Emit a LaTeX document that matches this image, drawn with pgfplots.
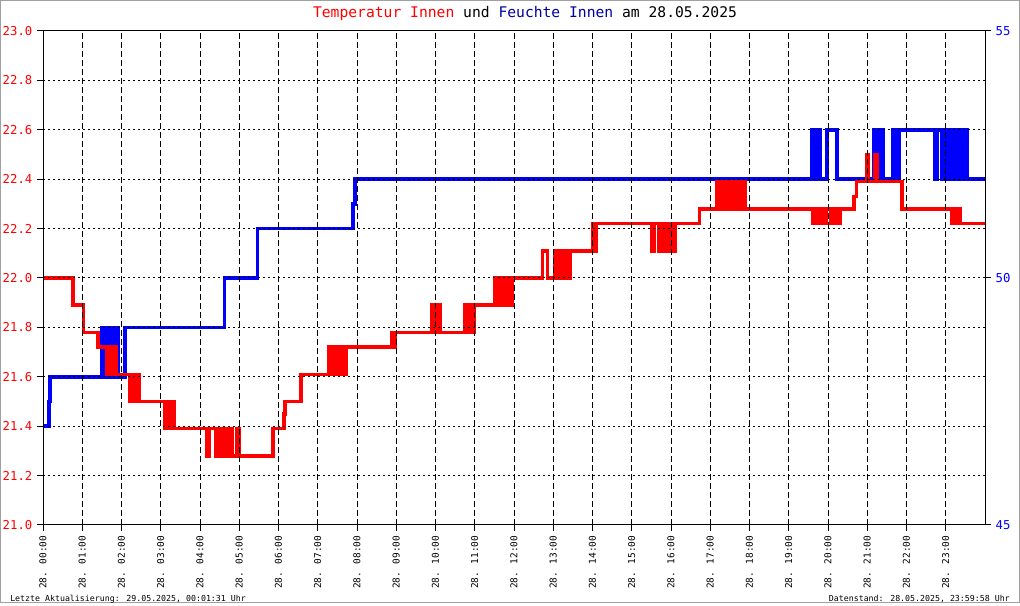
\documentclass[border=0pt]{standalone}
\usepackage{pgfplots}
\pgfplotsset{compat=1.18}
\usepackage{fontspec}
\setmainfont{DejaVu Sans Mono}
\definecolor{titleblue}{RGB}{0,0,160}
\definecolor{framegray}{RGB}{160,160,160}

\begin{document}
\begin{tikzpicture}
\useasboundingbox (0,0) rectangle (765pt,454.5pt);
\draw[framegray, line width=0.75pt] (0.375pt,2.25pt) rectangle (764.25pt,454.125pt);

\pgfplotsset{
  chart/.style={
    at={(32.25pt,60.75pt)}, anchor=south west,
    scale only axis, width=706.5pt, height=370.5pt,
    xmin=0, xmax=24,
    tick align=outside, major tick length=4.5pt,
    every tick/.style={black, line width=0.75pt},
    axis line style={black, line width=0.75pt},
    /pgf/number format/assume math mode=true,
  },
}

% Feuchte (rechte Achse)
\begin{axis}[chart,
  ymin=45, ymax=55, ytick={45,50,55},
  axis x line=none, axis y line*=right,
  yticklabel style={text=blue, font=\fontsize{9.2}{10}\selectfont},
]
\addplot[const plot, blue, line width=2.6pt] coordinates {
 (0,47)(0.15,47.5)(0.18,48)
 (1.50,49)(1.54,48)(1.58,49)(1.62,48)(1.66,49)(1.70,48)(1.74,49)(1.78,48)(1.83,49)(1.87,48)(1.90,49)(1.93,48)
 (2.09,49)
 (4.63,50)
 (5.46,51)
 (7.90,51.5)(7.95,52)
 (19.59,53)(19.63,52)(19.67,53)(19.71,52)(19.75,53)(19.80,52)
 (19.97,53)(20.23,52)
 (21.16,53)(21.20,52)(21.24,53)(21.28,52)(21.32,53)(21.36,52)(21.39,53)(21.42,52)
 (21.66,53)(21.70,52)(21.74,53)(21.78,52)(21.82,53)
 (22.73,52)(22.78,53)(22.90,52)(22.94,53)(22.98,52)(23.02,53)(23.06,52)(23.10,53)(23.14,52)(23.18,53)(23.22,52)(23.26,53)(23.30,52)(23.34,53)(23.38,52)(23.42,53)(23.46,52)(23.50,53)(23.54,52)
 (24,52)
};
\end{axis}

% Temperatur (linke Achse)
\begin{axis}[chart,
  ymin=21, ymax=23,
  ytick={21,21.2,21.4,21.6,21.8,22,22.2,22.4,22.6,22.8,23},
  yticklabel style={text=red, font=\fontsize{9.2}{10}\selectfont,
    /pgf/number format/fixed, /pgf/number format/fixed zerofill,
    /pgf/number format/precision=1},
  xtick={0,1,...,23},
  xticklabels={28. 00:00,28. 01:00,28. 02:00,28. 03:00,28. 04:00,28. 05:00,
    28. 06:00,28. 07:00,28. 08:00,28. 09:00,28. 10:00,28. 11:00,28. 12:00,
    28. 13:00,28. 14:00,28. 15:00,28. 16:00,28. 17:00,28. 18:00,28. 19:00,
    28. 20:00,28. 21:00,28. 22:00,28. 23:00},
  xticklabel style={rotate=90, anchor=east, font=\fontsize{7.1}{8}\selectfont},
  tick pos=left,
  grid=major,
  x grid style={black, line width=0.75pt, dash pattern=on 4.5pt off 2.25pt},
  y grid style={black, line width=0.75pt, dash pattern=on 1.5pt off 2.25pt},
  axis on top,
]
\addplot[const plot, red, line width=2.6pt] coordinates {
 (0,22.00)
 (0.76,21.89)
 (1.03,21.78)
 (1.40,21.72)
 (1.62,21.61)(1.66,21.72)(1.70,21.61)(1.74,21.72)(1.78,21.61)(1.82,21.72)(1.86,21.61)
 (2.22,21.5)(2.26,21.61)(2.30,21.5)(2.34,21.61)(2.38,21.5)(2.42,21.61)(2.46,21.5)
 (3.11,21.39)(3.15,21.5)(3.19,21.39)(3.23,21.5)(3.27,21.39)(3.31,21.5)(3.35,21.39)
 (4.18,21.28)(4.23,21.39)
 (4.41,21.28)(4.45,21.39)(4.49,21.28)(4.53,21.39)(4.57,21.28)(4.61,21.39)(4.65,21.28)(4.69,21.39)(4.73,21.28)(4.77,21.39)(4.81,21.28)
 (4.94,21.39)(4.99,21.28)
 (5.86,21.39)
 (6.14,21.45)(6.17,21.5)
 (6.57,21.61)
 (7.29,21.72)(7.33,21.61)(7.37,21.72)(7.41,21.61)(7.45,21.72)(7.49,21.61)(7.57,21.72)(7.61,21.61)(7.65,21.72)(7.69,21.61)(7.72,21.72)
 (8.89,21.78)(8.93,21.72)(8.97,21.78)
 (9.91,21.89)(9.97,21.78)(10.06,21.89)(10.13,21.78)
 (10.75,21.89)(10.79,21.78)(10.83,21.89)(10.87,21.78)(10.91,21.89)(10.95,21.78)(10.99,21.89)
 (11.52,22.0)(11.56,21.89)(11.59,22.0)(11.61,21.89)(11.64,22.0)(11.68,21.89)(11.72,22.0)(11.76,21.89)(11.80,22.0)(11.84,21.89)(11.87,22.0)(11.91,21.89)(11.95,22.0)
 (12.73,22.11)(12.85,22.0)
 (13.03,22.11)(13.07,22.0)(13.11,22.11)(13.15,22.0)(13.19,22.11)(13.23,22.0)(13.27,22.11)(13.31,22.0)(13.35,22.11)(13.39,22.0)(13.43,22.11)
 (14.01,22.22)(14.05,22.11)(14.09,22.22)
 (15.52,22.11)(15.58,22.22)(15.69,22.11)(15.73,22.22)(15.77,22.11)(15.81,22.22)(15.85,22.11)(15.88,22.22)(15.92,22.11)(15.96,22.22)(16.00,22.11)(16.04,22.22)(16.08,22.11)(16.11,22.22)
 (16.72,22.28)
 (17.17,22.39)(17.21,22.28)(17.25,22.39)(17.29,22.28)(17.33,22.39)(17.37,22.28)(17.41,22.39)(17.45,22.28)(17.49,22.39)(17.53,22.28)(17.59,22.39)(17.63,22.28)(17.67,22.39)(17.71,22.28)(17.75,22.39)(17.79,22.28)(17.85,22.39)(17.89,22.28)
 (19.62,22.22)(19.66,22.28)(19.70,22.22)(19.73,22.28)(19.76,22.22)(19.80,22.28)(19.84,22.22)(19.88,22.28)(19.92,22.22)(19.96,22.28)(20.06,22.22)(20.10,22.28)(20.18,22.22)(20.22,22.28)(20.26,22.22)(20.30,22.28)
 (20.66,22.33)(20.72,22.39)
 (20.98,22.5)(21.03,22.39)(21.20,22.5)(21.25,22.39)
 (21.88,22.28)
 (23.15,22.22)(23.20,22.28)(23.28,22.22)(23.32,22.28)(23.37,22.22)
 (24,22.22)
};
\end{axis}

\node[anchor=base, font=\fontsize{11}{12}\selectfont] at (393.75pt,441pt)
  {\textcolor{red}{Temperatur Innen} und \textcolor{titleblue}{Feuchte Innen} am 28.05.2025};
\node[anchor=base west, inner sep=0pt, font=\fontsize{6.2}{7}\selectfont] at (7.5pt,3pt)
  {Letzte Aktualisierung: 29.05.2025, 00:01:31 Uhr};
\node[anchor=base east, inner sep=0pt, font=\fontsize{6.2}{7}\selectfont] at (757.5pt,3pt)
  {Datenstand: 28.05.2025, 23:59:58 Uhr};
\end{tikzpicture}
\end{document}
